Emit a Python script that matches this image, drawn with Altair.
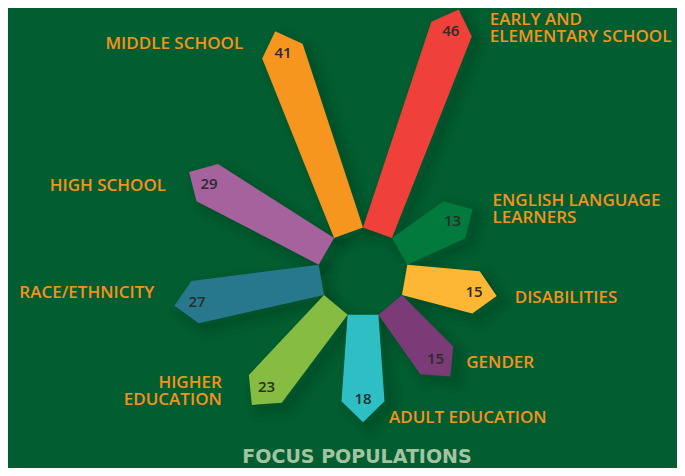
import math
import altair as alt
import pandas as pd

# ---------------- data ----------------
categories = ["Early and Elementary School", "English Language Learners", "Disabilities",
              "Gender", "Adult Education", "Higher Education", "Race/Ethnicity",
              "High School", "Middle School"]
label_text = ["EARLY AND\nELEMENTARY SCHOOL", "ENGLISH LANGUAGE\nLEARNERS", "DISABILITIES",
              "GENDER", "ADULT EDUCATION", "HIGHER\nEDUCATION", "RACE/ETHNICITY",
              "HIGH SCHOOL", "MIDDLE SCHOOL"]
values = [46, 13, 15, 15, 18, 23, 27, 29, 41]
title_text = "FOCUS POPULATIONS"

# ---------------- style / layout ----------------
colors = ["#EF4139", "#027A3D", "#FDB734", "#7A3B76", "#2DBFC3",
          "#86BC41", "#28788D", "#A6629C", "#F7961E"]
BG = "#025E30"
SHADOW = "#00331A"
LABEL_COLOR = "#F5921E"
VALUE_COLOR = "#2B2B2B"
TITLE_COLOR = "#A3C4A0"
FONT = "Open Sans"

CX, CY = 363.0, 272.5        # hub centre (page px)
HUB_R = 45.0                  # radius of the central nonagon
PX_PER_UNIT = 4.65            # bar length per unit of value
TIP_H = 21.0                  # height of the pointed end
HALF_W = 21.5                 # half width of bar at the shoulder
START_ANGLE, STEP = 20, 40    # compass angle of first bar, spacing
LABEL_OFFSETS = [(31, 19), (20, 0), (18, 2), (16, -13), (26, -4),
                 (-30, -13), (-20, -13), (-23, 14), (-32, 13)]
LINE_H = 17
SHADOW_DX, SHADOW_DY = 7, 6


def pt(r, ang, perp=0.0, dx=0.0, dy=0.0):
    a = math.radians(ang)
    return (CX + r * math.sin(a) + perp * math.cos(a) + dx,
            CY - r * math.cos(a) + perp * math.sin(a) + dy)


poly_rows, shadow_rows, val_rows, lab_rows = [], [], [], []
for i, (cat, v) in enumerate(zip(categories, values)):
    th = START_ANGLE + STEP * i
    r_s = HUB_R + PX_PER_UNIT * v
    verts_spec = [(HUB_R, th - 20, 0), (r_s, th, -HALF_W), (r_s + TIP_H, th, 0),
                  (r_s, th, HALF_W), (HUB_R, th + 20, 0), (HUB_R, th - 20, 0)]
    for k, (r, a, p) in enumerate(verts_spec):
        x, y = pt(r, a, p)
        poly_rows.append({"cat": cat, "vi": k, "x": x, "y": y})
        sx, sy = pt(r, a, p, SHADOW_DX, SHADOW_DY)
        shadow_rows.append({"cat": cat, "vi": k, "x": sx, "y": sy})
    vx, vy = pt(r_s - 2, th)
    val_rows.append({"cat": cat, "x": vx, "y": vy, "val": str(v)})
    tx, ty = pt(r_s + TIP_H, th)
    ox, oy = LABEL_OFFSETS[i]
    n_lines = label_text[i].count("\n") + 1
    lab_rows.append({"cat": cat, "x": tx + ox,
                     "y": ty + oy - (n_lines - 1) * LINE_H / 2,
                     "label": label_text[i],
                     "side": "right" if th <= 180 else "left"})

poly_df = pd.DataFrame(poly_rows)
shadow_df = pd.DataFrame(shadow_rows)
val_df = pd.DataFrame(val_rows)
lab_df = pd.DataFrame(lab_rows)

W, H = 669, 460
xs = alt.Scale(domain=[8, 8 + W], nice=False, zero=False)
ys = alt.Scale(domain=[8, 8 + H], nice=False, zero=False, reverse=True)
X = alt.X("x:Q", scale=xs, axis=None)
Y = alt.Y("y:Q", scale=ys, axis=None)


def shadow_layer(fill_op, sw, stroke_op):
    return alt.Chart(shadow_df).mark_line(
        filled=True, fill=SHADOW, fillOpacity=fill_op, stroke=SHADOW,
        strokeWidth=sw, strokeOpacity=stroke_op, strokeJoin="round"
    ).encode(x=X, y=Y, detail="cat:N", order=alt.Order("vi:Q"))


shadows = [shadow_layer(0.0, 22, 0.06), shadow_layer(0.0, 14, 0.07),
           shadow_layer(0.12, 7, 0.08)]

bars = alt.Chart(poly_df).mark_line(filled=True).encode(
    x=X, y=Y,
    color=alt.Color("cat:N", scale=alt.Scale(domain=categories, range=colors), legend=None),
    detail="cat:N",
    order=alt.Order("vi:Q"),
)

vals = alt.Chart(val_df).mark_text(
    font=FONT, fontSize=15, fontWeight=600, color=VALUE_COLOR,
    align="center", baseline="middle"
).encode(x=X, y=Y, text="val:N")

labels_r = alt.Chart(lab_df).transform_filter(alt.datum.side == "right").mark_text(
    font=FONT, fontSize=17, fontWeight=600, color=LABEL_COLOR,
    align="left", baseline="middle", lineBreak="\n", lineHeight=LINE_H
).encode(x=X, y=Y, text="label:N")

labels_l = alt.Chart(lab_df).transform_filter(alt.datum.side == "left").mark_text(
    font=FONT, fontSize=17, fontWeight=600, color=LABEL_COLOR,
    align="right", baseline="middle", lineBreak="\n", lineHeight=LINE_H
).encode(x=X, y=Y, text="label:N")

title = alt.Chart(pd.DataFrame({"t": [title_text]})).mark_text(
    font="DejaVu Sans", fontSize=19, fontWeight="bold", color=TITLE_COLOR,
    align="center", baseline="alphabetic"
).encode(x=alt.value(357 - 8), y=alt.value(463 - 8), text="t:N")

chart = alt.layer(*shadows, bars, vals, labels_r, labels_l, title).properties(
    width=W, height=H, background=BG, padding=0,
    autosize=alt.AutoSizeParams(type="none"),
).configure_view(strokeWidth=0)

chart.save("out.html", embed_options={"renderer": "svg", "actions": False})
